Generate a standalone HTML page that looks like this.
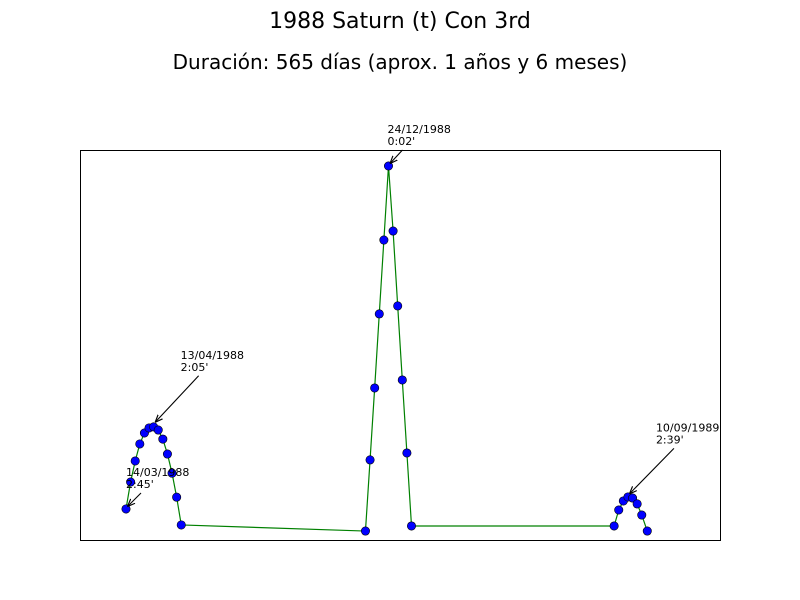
<!DOCTYPE html>
<html><head><meta charset="utf-8"><style>body{margin:0;background:#fff}svg{display:block;font-family:"DejaVu Sans","Liberation Sans",sans-serif}</style></head>
<body>
<svg id="chart" width="800" height="600" viewBox="0 0 800 600">
<defs><marker id="ah" viewBox="0 0 10 10" refX="9" refY="5" markerWidth="7" markerHeight="7" orient="auto"><path d="M0,1 L10,5 L0,9" fill="none" stroke="#000" stroke-width="1.5"/></marker></defs>
<rect width="800" height="600" fill="#fff"/>
<text x="400" y="28" text-anchor="middle" font-size="22">1988 Saturn (t) Con 3rd</text>
<text x="400" y="69" text-anchor="middle" font-size="20">Duración: 565 días (aprox. 1 años y 6 meses)</text>
<rect x="80.5" y="150.5" width="640" height="390" fill="none" stroke="#000"/>
<g id="series"></g>
<g id="annots"></g>
</svg>
<script>
const days = [0,5,10,15,20,25,30,35,40,45,50,55,60, 260,265,270,275,280,285,290,295,300,305,310, 530,535,540,545,550,555,560,566];
const minutes = [165,152.2,142.2,134.1,128.9,126.5,126,127.5,131.8,138.9,148,159.4,172.6, 175.5,141.7,107.5,72.3,37.2,2,32.9,68.5,103.7,138.4,173.1, 173.1,165.5,161.2,159.3,159.8,162.6,167.9,175.5];
const annDays = [0,30,285,545];
const annMins = [165,125,2,159];
const annLabels = [["14/03/1988","2:45'"],["13/04/1988","2:05'"],["24/12/1988","0:02'"],["10/09/1989","2:39'"]];
const annOffsets = [[0,-33],[27,-66],[-1,-33],[28,-65]];

const xs = d => 126 + d*0.921;
const ys = m => 166 + (m-2)*2.104;
const NS='http://www.w3.org/2000/svg';
const g=document.getElementById('series');
const line=document.createElementNS(NS,'polyline');


line.setAttribute('points',days.map((d,i)=>xs(d)+','+ys(minutes[i])).join(' '));
line.setAttribute('fill','none');line.setAttribute('stroke','#008000');line.setAttribute('stroke-width','1.2');
g.appendChild(line);
days.forEach((d,i)=>{
 const c=document.createElementNS(NS,'circle');
 
 
 c.setAttribute('cx',xs(d));c.setAttribute('cy',ys(minutes[i]));c.setAttribute('r','4.2');
 c.setAttribute('fill','#0000ff');c.setAttribute('stroke','#000');c.setAttribute('stroke-width','0.6');
 g.appendChild(c);
});
const a=document.getElementById('annots');
annDays.forEach((d,i)=>{
 const px=xs(d),py=ys(annMins[i]);
 const tx=px+annOffsets[i][0], ty=py+annOffsets[i][1];
 const t=document.createElementNS(NS,'text');
 
 
 t.setAttribute('x',tx);t.setAttribute('y',ty);t.setAttribute('font-size','11');
 annLabels[i].forEach((s,j)=>{const sp=document.createElementNS(NS,'tspan');sp.setAttribute('x',tx);sp.setAttribute('dy',j?12:0);sp.textContent=s;t.appendChild(sp);});
 a.appendChild(t);
 const l=document.createElementNS(NS,'line');
 
 
 const sx = tx + (i===0?15:(i===2?15:18)), sy = ty + 17;
 l.setAttribute('x1',sx);l.setAttribute('y1',sy);l.setAttribute('x2',px+2);l.setAttribute('y2',py-3);
 l.setAttribute('stroke','#000');l.setAttribute('stroke-width','1.1');l.setAttribute('marker-end','url(#ah)');
 a.appendChild(l);
});
</script>
</body></html>
